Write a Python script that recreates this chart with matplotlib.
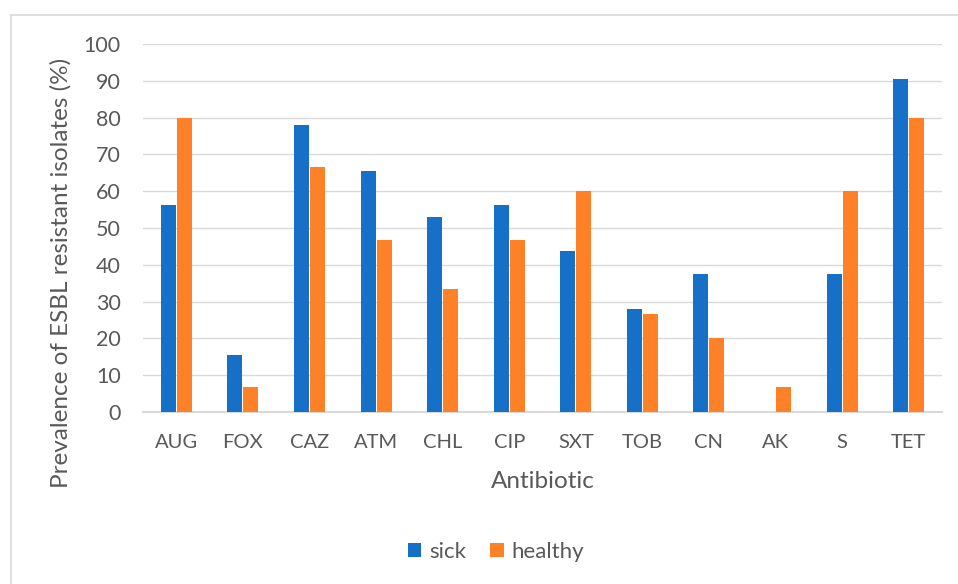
import matplotlib
matplotlib.use("Agg")
import matplotlib.pyplot as plt
import numpy as np
from matplotlib.lines import Line2D

antibiotics = ["AUG", "FOX", "CAZ", "ATM", "CHL", "CIP", "SXT", "TOB", "CN", "AK", "S", "TET"]
sick = [56.25, 15.6, 78.1, 65.6, 53.1, 56.25, 43.75, 28.1, 37.5, 0, 37.5, 90.6]
healthy = [80, 6.67, 66.67, 46.67, 33.33, 46.67, 60, 26.67, 20, 6.67, 60, 80]
yticks = list(range(0, 101, 10))

plt.rcParams["font.family"] = ["Lato", "DejaVu Sans"]
text_color = "#595959"
W, H = 958, 584

fig = plt.figure(figsize=(W / 100, H / 100), dpi=100)
# chart-area frame (left and top edges)
fig.add_artist(Line2D([11 / W, 11 / W], [0, 1 - 15 / H], transform=fig.transFigure,
                      color="#d9d9d9", linewidth=1.2))
fig.add_artist(Line2D([11 / W, 1], [1 - 15 / H, 1 - 15 / H], transform=fig.transFigure,
                      color="#d9d9d9", linewidth=1.2))

ax = fig.add_axes([143 / W, 1 - 412 / H, (942 - 143) / W, (412 - 44) / H])

x = np.arange(len(antibiotics))
w = 0.225
gap = 0.015
ax.bar(x - (w + gap) / 2, sick, width=w, color="#1770C7", label="sick", zorder=3)
ax.bar(x + (w + gap) / 2, healthy, width=w, color="#FF8127", label="healthy", zorder=3)

ax.set_xlim(-0.5, len(antibiotics) - 0.5)
ax.set_ylim(0, 100)
ax.set_yticks(yticks)
ax.set_xticks(x)
ax.set_xticklabels(antibiotics)
ax.tick_params(axis="both", length=0, colors=text_color)
ax.tick_params(axis="x", labelsize=14.5, pad=16)
ax.tick_params(axis="y", labelsize=15.5, pad=16)
ax.grid(axis="y", color="#d9d9d9", linewidth=1, zorder=0)
for side in ["top", "right", "left"]:
    ax.spines[side].set_visible(False)
ax.spines["bottom"].set_color("#d9d9d9")
ax.spines["bottom"].set_linewidth(1.5)

ax.set_xlabel("Antibiotic", fontsize=17.5, color=text_color)
ax.xaxis.label.set_va("center")
ax.xaxis.set_label_coords(0.5, (412 - 482) / 368)
ax.set_ylabel("Prevalence of ESBL resistant isolates (%)", fontsize=17.5, color=text_color)
ax.yaxis.label.set_va("center")
ax.yaxis.set_label_coords((61 - 143) / 799, (412 - 273) / 368)

fig.legend(loc="center", bbox_to_anchor=(496 / W, 1 - 552 / H), ncol=2, frameon=False,
           fontsize=16, handlelength=0.6, handleheight=0.6, handletextpad=0.35, columnspacing=1.1,
           labelcolor=text_color)

fig.savefig("out.png", dpi=100)
